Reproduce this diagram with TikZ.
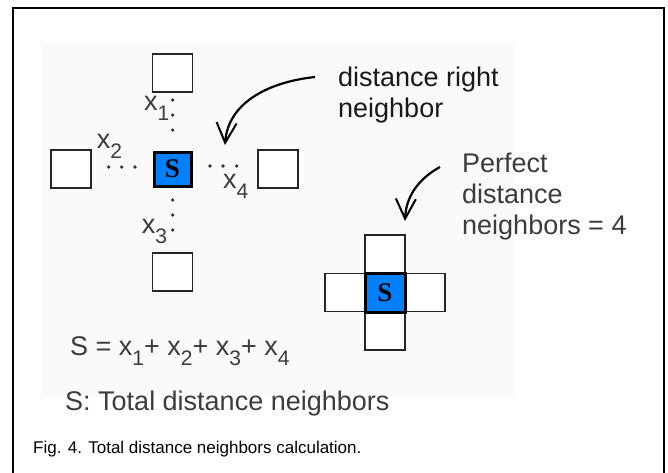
\documentclass[tikz,border=0pt]{standalone}
\usepackage{fontspec}
\setmainfont{Liberation Sans}
\newfontfamily\serifbold{Liberation Serif}
\usepackage{tikz}
\usetikzlibrary{positioning,arrows.meta}
\usepackage{xcolor}

\definecolor{sblue}{RGB}{0,128,255}
\definecolor{txtgray}{RGB}{60,60,60}
\newcommand{\xsub}[1]{x\raisebox{-10pt}{\fontsize{21}{21}\selectfont #1}}

\begin{document}
\begin{tikzpicture}[
    x=1pt, y=-1pt,
    cell/.style={
        rectangle,
        draw=black!85,
        line width=1.4pt,
        fill=white,
        minimum width=40pt,
        minimum height=38pt,
        inner sep=0pt,
        outer sep=0pt
    },
    snode/.style={
        rectangle,
        draw=black,
        line width=3pt,
        fill=sblue,
        minimum width=37pt,
        minimum height=34pt,
        inner sep=0pt,
        outer sep=0pt,
        font=\serifbold\bfseries\fontsize{27}{27}\selectfont
    },
    note/.style={
        anchor=north west,
        align=left,
        inner sep=0pt,
        text=txtgray,
        font=\fontsize{27}{31}\selectfont
    },
    xlab/.style={
        anchor=base west,
        inner sep=0pt,
        text=txtgray,
        font=\fontsize{27}{27}\selectfont
    },
    handarrow/.style={
        line width=2.2pt,
        -{Straight Barb[length=20pt,width=20pt,line width=2pt]}
    },
    dotc/.style={fill=black!80}
]
\useasboundingbox (0,0) rectangle (668,472);

% frame and faint backdrop
\fill[black!2] (42,43) rectangle (515,397);
\draw[line width=2pt] (12.5,480) -- (12.5,8) -- (663.5,8) -- (663.5,480);

% S with its four neighbors
\node[snode] (sc) at (172.5,169) {S};
\node[cell, above=60pt of sc] (nbtop) {};
\node[cell, left=63pt of sc] (nbleft) {};
\node[cell, right=67pt of sc] (nbright) {};
\node[cell, below=67pt of sc] (nbbottom) {};

% distances
\fill[dotc] (172.7,100) circle (1.8) (172.7,115) circle (1.8) (172.7,130) circle (1.8);
\fill[dotc] (108.7,167) circle (1.8) (121.7,167) circle (1.8) (135,167) circle (1.8);
\fill[dotc] (210,166) circle (1.8) (223,166) circle (1.8) (236.7,166) circle (1.8);
\fill[dotc] (172.7,200) circle (1.8) (172.7,215) circle (1.8) (172.7,230) circle (1.8);
\node[xlab] (x1) at (144,110) {\xsub{1}};
\node[xlab] (x2) at (96.7,148) {\xsub{2}};
\node[xlab] (x3) at (141.7,233) {\xsub{3}};
\node[xlab] (x4) at (223,188) {\xsub{4}};

% perfect case
\node[snode, minimum width=40pt, minimum height=39pt] (pc) at (385,292.5) {S};
\node[cell, above=0pt of pc] (pctop) {};
\node[cell, left=0pt of pc] (pcleft) {};
\node[cell, right=0pt of pc] (pcright) {};
\node[cell, below=0pt of pc] (pcbottom) {};
\draw[black, line width=3pt] (pc.north west) rectangle (pc.south east);

% annotations
\node[note, text=black!90] (dr) at (338,67) {distance right\\neighbor};
\node[note] (pd) at (462,152.5) {Perfect\\distance\\neighbors = 4};
\coordinate (drtail) at (315,77);
\coordinate (drtip) at (225,145);
\coordinate (pdtail) at (440,167);
\coordinate (pdtip) at (405,221);
\draw[handarrow] (drtail) .. controls (268,82) and (228,103) .. (drtip);
\draw[handarrow] (pdtail) .. controls (420,178) and (406,195) .. (pdtip);

% formula and caption
\node[xlab] (sum) at (70,355) {S = \xsub{1}+ \xsub{2}+ \xsub{3}+ \xsub{4}};
\node[xlab] (legend) at (65,410) {S: Total distance neighbors};
\node[anchor=base west, inner sep=0pt, font=\fontsize{17}{17}\selectfont] (caption) at (33,453)
    {Fig. 4. Total distance neighbors calculation.};
\end{tikzpicture}
\end{document}
